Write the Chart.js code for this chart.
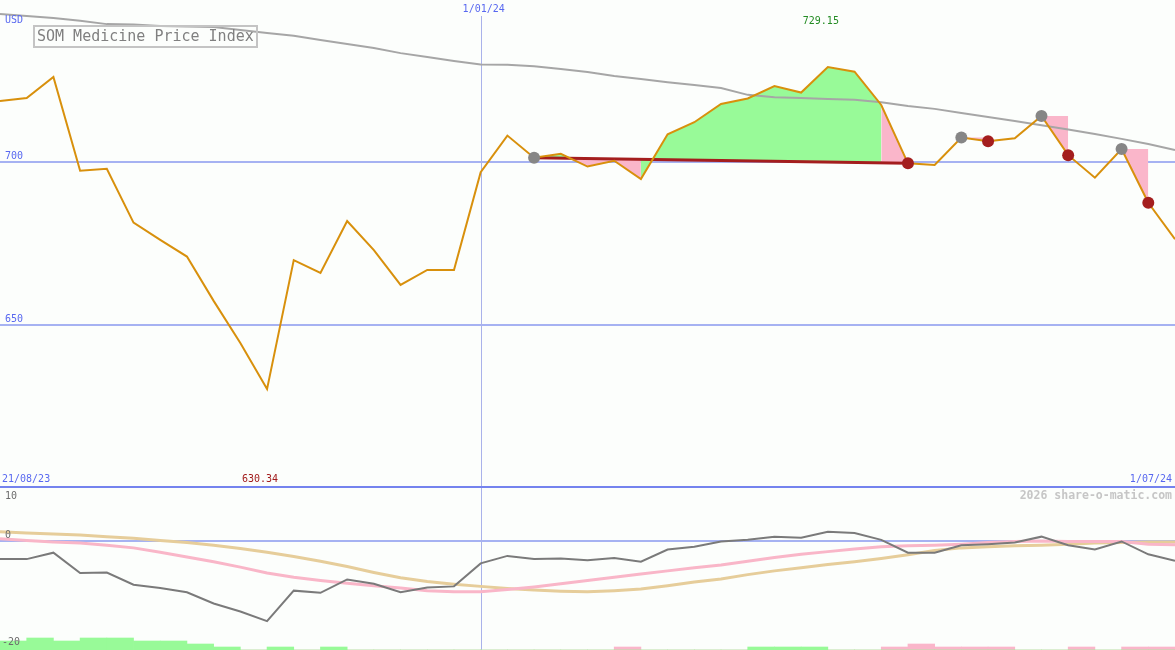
<!DOCTYPE html>
<html>
<head>
<meta charset="utf-8">
<script src="https://cdn.jsdelivr.net/npm/chart.js@4.4.1/dist/chart.umd.min.js"></script>
<style>
  body { margin: 0; background: #fcfefc; }
  #wrap { position: relative; width: 1175px; height: 650px; background: #fcfefc; overflow: hidden; }
  #main { position: absolute; left: 0; top: 0; }
  #lower { position: absolute; left: 0; top: 488px; }
  #sep { position: absolute; left: 0; top: 486px; width: 1175px; height: 2px; background: #7483ee; }
  #title {
    position: absolute; left: 33px; top: 25px; width: 219px; height: 19px; padding-left: 2px;
    border: 2px solid #c4c4c4; color: #808080; line-height: 20px;
    font: 15px 'DejaVu Sans Mono', monospace; white-space: nowrap;
  }
</style>
</head>
<body>
<div id="wrap">
  <canvas id="main" width="1175" height="487"></canvas>
  <div id="sep"></div>
  <canvas id="lower" width="1175" height="162"></canvas>
  <div id="title">SOM Medicine Price Index</div>
</div>
<script>
// weekly closes, 21/08/23 .. 1/07/24
const price = [718.7, 719.6, 726.1, 697.3, 697.9, 681.4, 676.1, 671.0, 657.4, 644.5,
  630.34, 669.9, 666.0, 681.9, 673.0, 662.3, 666.9, 666.9, 696.9, 708.1,
  701.3, 702.5, 698.6, 700.4, 694.8, 708.5, 712.2, 717.8, 719.5, 723.3,
  721.3, 729.15, 727.7, 717.5, 699.6, 699.1, 707.5, 706.4, 707.3, 714.1,
  702.1, 695.2, 704.0, 687.5, 676.3];
// long moving average (grey)
const average = [745.4, 744.8, 744.2, 743.3, 742.3, 742.2, 741.7, 741.6, 741.4, 740.5,
  739.6, 738.7, 737.4, 736.2, 735.0, 733.4, 732.2, 731.0, 729.9, 729.8,
  729.4, 728.5, 727.6, 726.4, 725.5, 724.5, 723.6, 722.7, 720.6, 719.9,
  719.6, 719.3, 719.1, 718.3, 717.2, 716.3, 715.0, 713.8, 712.6, 711.3,
  710.0, 708.6, 707.1, 705.5, 703.7];

const buys = [20, 36, 39, 42];
const sells = [34, 37, 40, 43];
// shading of the first trade: [from, to, above ref, below ref]
const firstTradeRuns = [[20, 24, 'gain', 'loss'], [24, 33, 'gain', 'gain'], [33, 34, 'loss', 'loss']];

const mainTicks = [700, 650];
const lowerTicks = [10, 0, -20];
const startLabel = '21/08/23';
const yearLabel = '1/01/24';
const yearIndex = 18;
const endLabel = '1/07/24';

// lower panel
const momentum = [-3.3, -3.3, -2.1, -5.9, -5.8, -8.1, -8.7, -9.5, -11.6, -13.1,
  -14.9, -9.2, -9.6, -7.1, -7.9, -9.5, -8.6, -8.4, -4.1, -2.7,
  -3.3, -3.2, -3.5, -3.1, -3.8, -1.5, -1.0, 0.0, 0.3, 0.9,
  0.7, 1.8, 1.6, 0.3, -2.1, -2.1, -0.7, -0.5, -0.2, 0.9,
  -0.7, -1.5, 0.0, -2.4, -3.6];
const signal = [0.5, 0.2, -0.1, -0.3, -0.7, -1.2, -2.0, -2.9, -3.8, -4.8,
  -5.9, -6.7, -7.3, -7.8, -8.3, -8.7, -9.2, -9.4, -9.4, -9.0,
  -8.5, -7.9, -7.3, -6.7, -6.1, -5.5, -4.9, -4.4, -3.7, -3.0,
  -2.4, -1.9, -1.4, -1.0, -0.8, -0.7, -0.5, -0.2, 0.0, 0.1,
  0.0, 0.0, 0.0, -0.5, -0.6];
const slow = [1.8, 1.6, 1.4, 1.2, 0.9, 0.6, 0.2, -0.2, -0.7, -1.3,
  -2.0, -2.8, -3.7, -4.7, -5.8, -6.8, -7.5, -8.0, -8.4, -8.8,
  -9.1, -9.3, -9.4, -9.2, -8.9, -8.3, -7.6, -7.0, -6.2, -5.5,
  -4.9, -4.3, -3.8, -3.2, -2.5, -1.7, -1.2, -1.0, -0.8, -0.7,
  -0.5, -0.3, -0.2, -0.1, -0.1];
// weekly bars (one per week gap)
const barsGain = [3, 4, 3, 4, 4, 3, 3, 2, 1, 0, 1, 0, 1, 0, 0, 0, 0, 0, 0, 0, 0, 0,
  0, 0, 0, 0, 0, 0, 1, 1, 1, 0, 0, 0, 0, 0, 0, 0, 0, 0, 0, 0, 0, 0];
const barsLoss = [0, 0, 0, 0, 0, 0, 0, 0, 0, 0, 0, 0, 0, 0, 0, 0, 0, 0, 0, 0, 0, 0,
  0, 1, 0, 0, 0, 0, 0, 0, 0, 0, 0, 1, 2, 1, 1, 1, 0, 0, 1, 0, 1, 1];

const fillColor = { gain: '#98fa98', loss: '#fab6ca' };
const gridBlue = '#a6b2f2';
const labelBlue = '#5868f0';
const vLine = '#a9b2ea';
const mono = "'DejaVu Sans Mono', monospace";
const none = 'rgba(0,0,0,0)';

const pts = arr => arr.map((y, i) => ({ x: i, y }));
const slice = (a, b) => price.slice(a, b + 1).map((y, k) => ({ x: a + k, y }));

// ---------- main panel ----------
const datasets = [];
const add = ds => { datasets.push(Object.assign({ pointRadius: 0, tension: 0, fill: false }, ds)); return datasets.length - 1; };

add({ data: buys.map(i => ({ x: i, y: price[i] })), showLine: false, pointRadius: 6,
  pointBackgroundColor: '#868686', pointBorderWidth: 0, order: 0 });
add({ data: sells.map(i => ({ x: i, y: price[i] })), showLine: false, pointRadius: 6,
  pointBackgroundColor: '#a41e1e', pointBorderWidth: 0, order: 0 });
add({ data: pts(price), borderColor: '#d8900c', borderWidth: 2, order: 1 });
const refIdx = add({ data: [{ x: buys[0], y: price[buys[0]] }, { x: sells[0], y: price[sells[0]] }],
  borderColor: '#a41e1e', borderWidth: 3, order: 2 });
add({ data: pts(average), borderColor: '#a6a6a6', borderWidth: 2, order: 3 });
firstTradeRuns.forEach(([a, b, up, dn]) => add({
  data: slice(a, b), borderColor: none, borderWidth: 0, order: 4,
  fill: { target: refIdx, above: fillColor[up], below: fillColor[dn] }
}));
for (let t = 1; t < buys.length; t++) {
  const b = buys[t], s = sells[t];
  const h = add({ data: [{ x: b, y: price[b] }, { x: s, y: price[b] }], borderColor: none, borderWidth: 0, order: 6 });
  add({ data: slice(b, s), borderColor: none, borderWidth: 0, order: 4,
    fill: { target: h, above: fillColor.loss, below: fillColor.loss } });
}

const hi = price.indexOf(Math.max(...price));
const lo = price.indexOf(Math.min(...price));

const text = (ctx, s, x, y, color, align, font) => {
  ctx.font = font || `10px ${mono}`;
  ctx.fillStyle = color;
  ctx.textAlign = align || 'left';
  ctx.textBaseline = 'middle';
  ctx.fillText(s, x, y);
};

const mainDeco = {
  id: 'mainDeco',
  beforeDatasetsDraw(chart) {
    const { ctx, scales: { x }, chartArea } = chart;
    const px = Math.round(x.getPixelForValue(yearIndex)) + 0.5;
    ctx.save();
    ctx.strokeStyle = vLine; ctx.lineWidth = 1;
    ctx.beginPath(); ctx.moveTo(px, 16); ctx.lineTo(px, chartArea.bottom); ctx.stroke();
    ctx.restore();
  },
  afterDraw(chart) {
    const { ctx, scales: { x, y }, chartArea } = chart;
    ctx.save();
    mainTicks.forEach(v => text(ctx, String(v), 5, y.getPixelForValue(v) - 6, labelBlue));
    text(ctx, 'USD', 5, 20, labelBlue);
    text(ctx, yearLabel, x.getPixelForValue(yearIndex) + 3, 9, labelBlue, 'center');
    text(ctx, price[hi].toFixed(2), x.getPixelForValue(hi) - 7, 21, '#248c24', 'center');
    text(ctx, price[lo].toFixed(2), x.getPixelForValue(lo) - 7, chartArea.bottom - 8, '#a21c1c', 'center');
    text(ctx, startLabel, 2, chartArea.bottom - 8, labelBlue);
    text(ctx, endLabel, 1172, chartArea.bottom - 8, labelBlue, 'right');
    ctx.restore();
  }
};

new Chart(document.getElementById('main'), {
  type: 'line',
  data: { datasets },
  options: {
    responsive: false, animation: false, devicePixelRatio: 1, events: [],
    layout: { padding: 0, autoPadding: false },
    plugins: { legend: { display: false }, tooltip: { enabled: false } },
    scales: {
      x: { type: 'linear', min: 0, max: price.length - 1, display: false },
      y: {
        min: 600.3, max: 749.7,
        afterBuildTicks: s => { s.ticks = mainTicks.map(v => ({ value: v })); },
        grid: { color: gridBlue, lineWidth: 2, drawTicks: false },
        border: { display: false },
        ticks: { display: false }
      }
    }
  },
  plugins: [mainDeco]
});

// ---------- lower panel ----------
const lowerDeco = {
  id: 'lowerDeco',
  beforeDatasetsDraw(chart) {
    const { ctx, scales: { x }, chartArea } = chart;
    const px = Math.round(x.getPixelForValue(yearIndex)) + 0.5;
    ctx.save();
    ctx.strokeStyle = vLine; ctx.lineWidth = 1;
    ctx.beginPath(); ctx.moveTo(px, chartArea.top); ctx.lineTo(px, chartArea.bottom); ctx.stroke();
    ctx.restore();
  },
  afterDraw(chart) {
    const { ctx, scales: { y } } = chart;
    ctx.save();
    const off = { 10: 8, 0: -6, '-20': -6 };
    lowerTicks.forEach(v => text(ctx, String(v), v < 0 ? 2 : 5, y.getPixelForValue(v) + off[v], '#6c6c6c'));
    text(ctx, '2026 share-o-matic.com', 1172, 8, '#c6c6c6', 'right', `bold 11.5px ${mono}`);
    ctx.restore();
  }
};

new Chart(document.getElementById('lower'), {
  type: 'line',
  data: {
    datasets: [
      { data: pts(momentum), borderColor: '#7a7a7a', borderWidth: 2, pointRadius: 0, tension: 0, order: 0 },
      { data: pts(signal), borderColor: '#f9b6c8', borderWidth: 3, pointRadius: 0, tension: 0, order: 1 },
      { data: pts(slow), borderColor: '#e6cd9a', borderWidth: 3, pointRadius: 0, tension: 0, order: 2 },
      { type: 'bar', data: barsGain.map((v, i) => ({ x: i + 0.5, y: v })), backgroundColor: fillColor.gain,
        yAxisID: 'yb', grouped: false, barPercentage: 1, categoryPercentage: 1, borderWidth: 0, order: 5 },
      { type: 'bar', data: barsLoss.map((v, i) => ({ x: i + 0.5, y: v })), backgroundColor: fillColor.loss,
        yAxisID: 'yb', grouped: false, barPercentage: 1, categoryPercentage: 1, borderWidth: 0, order: 5 }
    ]
  },
  options: {
    responsive: false, animation: false, devicePixelRatio: 1, events: [],
    layout: { padding: 0, autoPadding: false },
    plugins: { legend: { display: false }, tooltip: { enabled: false } },
    scales: {
      x: { type: 'linear', min: 0, max: price.length - 1, offset: false, display: false },
      y: {
        min: -20.3, max: 10,
        afterBuildTicks: s => { s.ticks = lowerTicks.map(v => ({ value: v })); },
        grid: { color: c => (c.tick && c.tick.value === 0 ? gridBlue : none), lineWidth: 2, drawTicks: false },
        border: { display: false },
        ticks: { display: false }
      },
      yb: { min: 0, max: 54, display: false }
    }
  },
  plugins: [lowerDeco]
});
</script>
</body>
</html>
